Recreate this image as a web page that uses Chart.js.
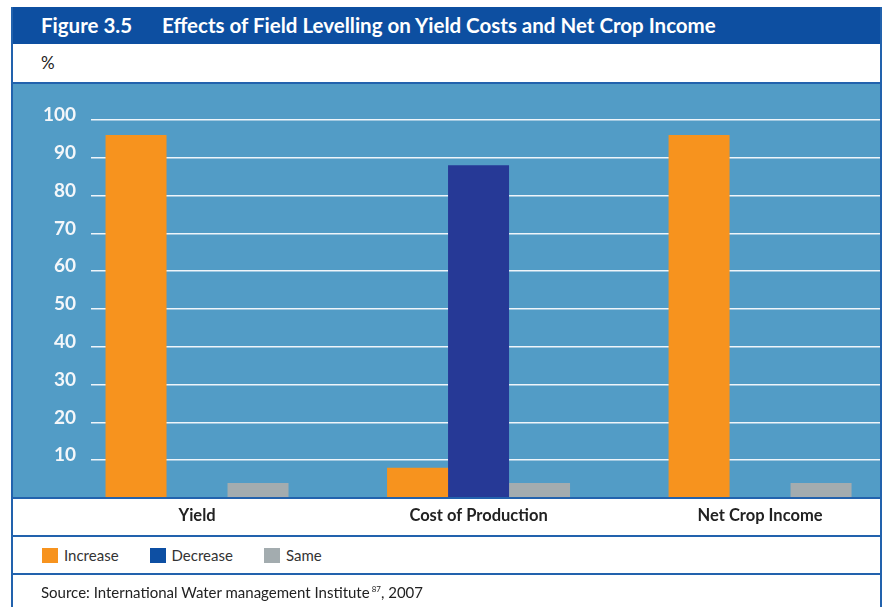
<!DOCTYPE html>
<html>
<head>
<meta charset="utf-8">
<script src="https://cdn.jsdelivr.net/npm/chart.js@4.4.1/dist/chart.umd.min.js"></script>
<style>
    body { margin: 0; width: 884px; height: 607px; overflow: hidden; background: #fff; position: relative; font-family: 'Lato', 'Open Sans', sans-serif; }
    #title { position: absolute; left: 12px; top: 7px; width: 869px; height: 37px; background: #0d4fa1; color: #fff; font-weight: bold; font-size: 20.5px; line-height: 37px; }
    #title .fig { position: absolute; left: 29px; }
    #title .ttl { position: absolute; left: 150px; }
    #unit { position: absolute; left: 41px; top: 52px; font-size: 17px; color: #222; }
    #chartBox { position: absolute; left: 12px; top: 83px; width: 868px; height: 453px; }
    #legend { position: absolute; left: 42px; top: 546px; display: flex; align-items: center; font-size: 15px; color: #333; }
    #legend .item { display: flex; align-items: center; margin-right: 31px; }
    #legend .sw { width: 16px; height: 15px; margin-right: 6px; }
    #source { position: absolute; left: 41px; top: 583px; font-size: 15px; color: #222; }
    #source sup { font-size: 8px; }
    .frame { position: absolute; left: 11px; top: 7px; width: 867px; height: 620px; border-left: 2px solid #2262ad; border-right: 2px solid #2262ad; }
    .hline { position: absolute; left: 11px; width: 871px; height: 2px; background: #2262ad; }
</style>
</head>
<body>
<div id="title"><span class="fig">Figure 3.5</span><span class="ttl">Effects of Field Levelling on Yield Costs and Net Crop Income</span></div>
<div id="unit">%</div>
<div id="chartBox"><canvas id="chart"></canvas></div>
<div id="legend"></div>
<div id="source">Source: International Water management Institute<sup> 87</sup>, 2007</div>
<div class="frame"></div>
<div class="hline" style="top:82px"></div>
<div class="hline" style="top:497px"></div>
<div class="hline" style="top:535px"></div>
<div class="hline" style="top:573px"></div>
<script>
    // Chart data
    const categories = ['Yield', 'Cost of Production', 'Net Crop Income'];
    const seriesNames = ['Increase', 'Decrease', 'Same'];
    const increaseValues = [96, 8, 96];
    const decreaseValues = [0, 88, 0];
    const sameValues = [4, 4, 4];
    const yTickValues = [10, 20, 30, 40, 50, 60, 70, 80, 90, 100];

    const barColors = ['#f7931e', '#263996', '#a3acaf'];
    const legendColors = ['#f7931e', '#0d4fa3', '#a3acaf'];

    // Legend row in HTML, like the printed figure
    const legend = document.getElementById('legend');
    seriesNames.forEach((name, i) => {
        const item = document.createElement('div');
        item.className = 'item';
        item.innerHTML = `<span class="sw" style="background:${legendColors[i]}"></span><span>${name}</span>`;
        legend.appendChild(item);
    });

    // Paint the blue plot panel behind the bars
    const panelBackground = {
        id: 'panelBackground',
        beforeDraw(chart) {
            const ctx = chart.ctx;
            ctx.save();
            ctx.fillStyle = '#529cc6';
            ctx.fillRect(0, 0, chart.width, chart.chartArea.bottom);
            ctx.restore();
        }
    };

    const toPoints = values => values.map((v, i) => ({ x: i, y: v }));

    const ctx = document.getElementById('chart').getContext('2d');
    const chart = new Chart(ctx, {
        type: 'bar',
        data: {
            datasets: [
                { label: seriesNames[0], data: toPoints(increaseValues), backgroundColor: barColors[0] },
                { label: seriesNames[1], data: toPoints(decreaseValues), backgroundColor: barColors[1] },
                { label: seriesNames[2], data: toPoints(sameValues), backgroundColor: barColors[2] }
            ]
        },
        options: {
            responsive: true,
            maintainAspectRatio: false,
            animation: false,
            categoryPercentage: 0.65,
            barPercentage: 1,
            borderWidth: 0,
            layout: { padding: { top: 37, left: 0, right: 0, bottom: 0 } },
            plugins: {
                legend: { display: false },
                tooltip: { enabled: false }
            },
            scales: {
                x: {
                    type: 'linear',
                    offset: false,
                    min: -0.3766,
                    max: 2.426,
                    grid: { display: false, drawTicks: false },
                    border: { display: false },
                    afterBuildTicks: scale => {
                        scale.ticks = categories.map((c, i) => ({ value: i }));
                    },
                    afterFit: scale => { scale.height = 38; },
                    ticks: {
                        autoSkip: false,
                        maxRotation: 0,
                        padding: 8,
                        color: '#222',
                        font: { family: 'Lato', size: 16.5, weight: 'bold' },
                        callback: value => categories[value]
                    }
                },
                y: {
                    min: 0,
                    max: 100,
                    afterBuildTicks: scale => {
                        scale.ticks = yTickValues.map(v => ({ value: v }));
                    },
                    afterFit: scale => { scale.width = 79; },
                    grid: {
                        color: 'rgba(255,255,255,0.9)',
                        lineWidth: 1.5,
                        drawTicks: false
                    },
                    border: { display: false },
                    ticks: {
                        padding: 15,
                        labelOffset: -5,
                        color: '#f4f7fa',
                        font: { family: 'Lato', size: 19, weight: 'bold' }
                    }
                }
            }
        },
        plugins: [panelBackground]
    });
</script>
</body>
</html>
